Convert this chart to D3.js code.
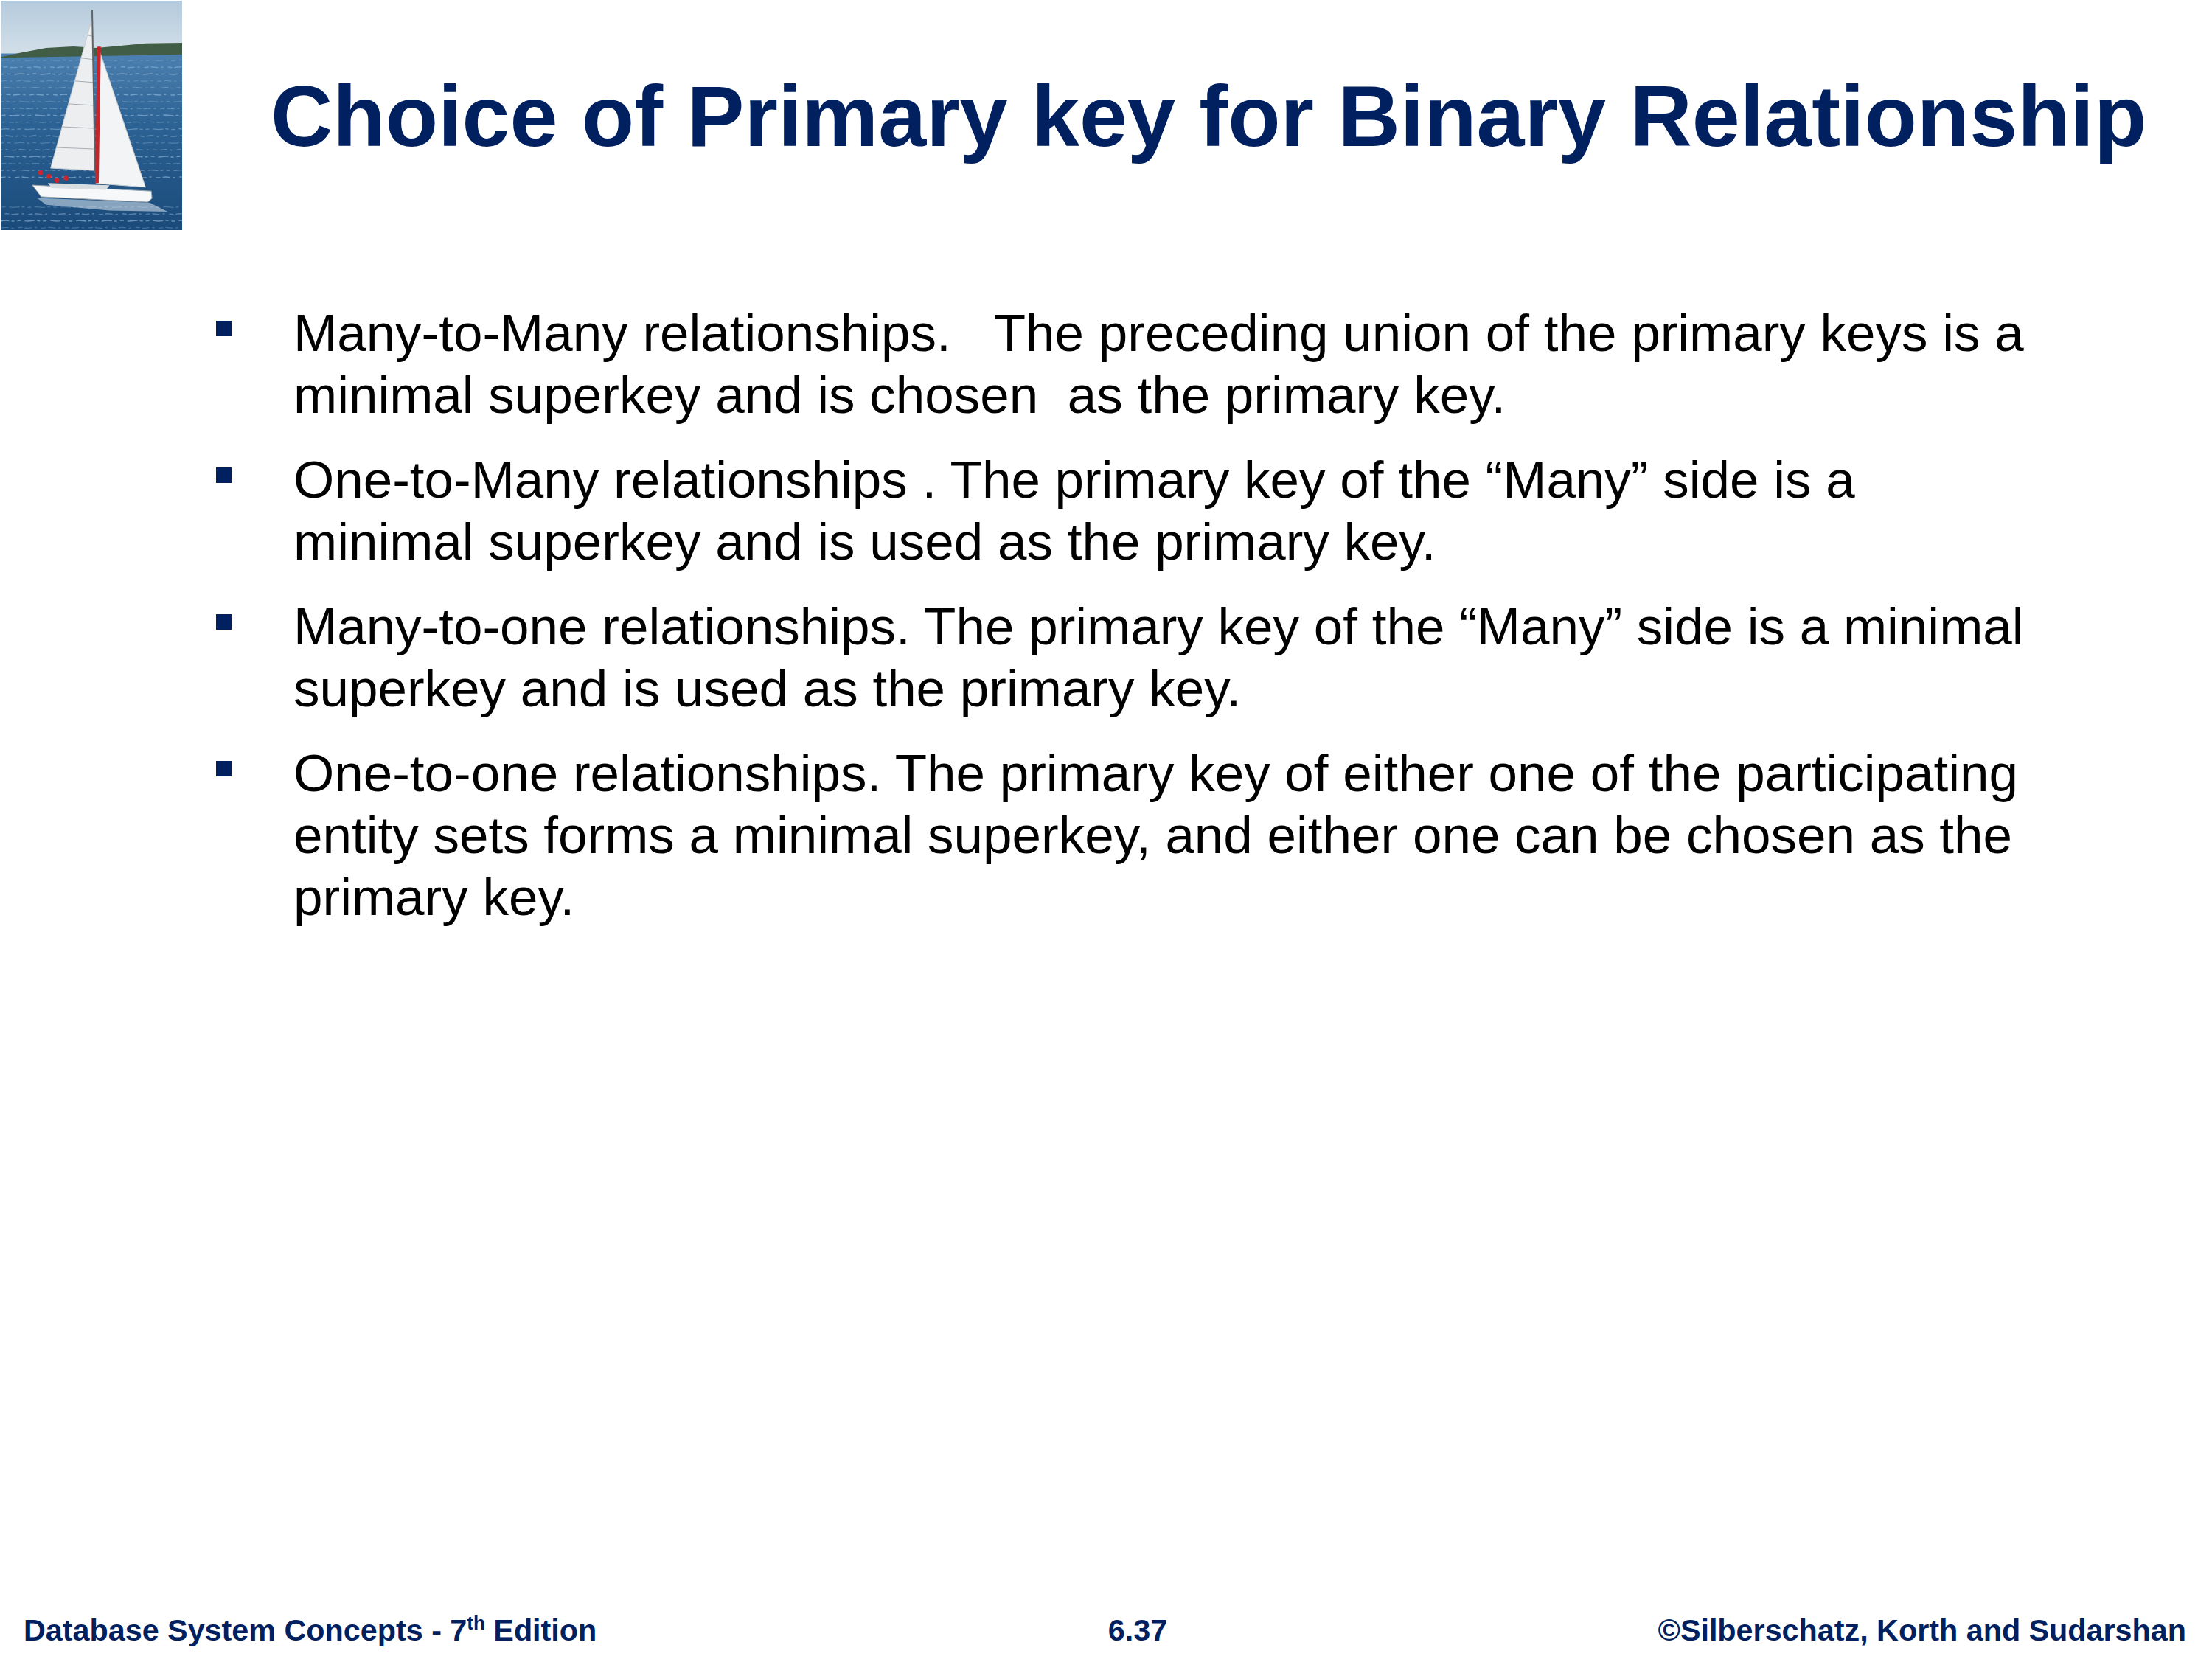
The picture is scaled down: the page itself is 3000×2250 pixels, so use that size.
<!DOCTYPE html>
<html>
<head>
<meta charset="utf-8">
<script src="https://cdn.jsdelivr.net/npm/d3@7"></script>
<style>
  html, body { margin: 0; padding: 0; background: #fff; }
  svg { display: block; }
  text { white-space: pre; }
</style>
</head>
<body>
<div id="slide"></div>
<script>
const WIDTH = 3000;
const HEIGHT = 2250;
const NAVY = "#002060";

// slide text
const titleText = "Choice of Primary key for Binary Relationship";

const bullets = [
  ["Many-to-Many relationships.   The preceding union of the primary keys is a",
   "minimal superkey and is chosen  as the primary key."],
  ["One-to-Many relationships . The primary key of the \u201cMany\u201d side is a",
   "minimal superkey and is used as the primary key."],
  ["Many-to-one relationships. The primary key of the \u201cMany\u201d side is a minimal",
   "superkey and is used as the primary key."],
  ["One-to-one relationships. The primary key of either one of the participating",
   "entity sets forms a minimal superkey, and either one can be chosen as the",
   "primary key."]
];

const footerLeft = ["Database System Concepts - 7", "th", " Edition"];
const footerCenter = "6.37";
const footerRight = "\u00a9Silberschatz, Korth and Sudarshan";

// logo picture (sailboat), in its own 0..100 units
const hills = [[0, 24.5], [12, 22.5], [25, 20.6], [40, 19.9], [53, 20.6], [66, 19.6], [80, 18.6], [100, 18.3], [100, 23.5], [0, 24.8]];
const mainsail = [[50.6, 7], [51.8, 74], [27.5, 73]];
const jib = [[53.8, 20.2], [79.8, 81.3], [52.6, 79.7]];
const hull = [[17.4, 80.4], [83, 83], [83.4, 86.2], [81, 87.8], [22.3, 85.5]];
const crew = [[22, 75], [26.5, 76.6], [31, 78.4], [36, 77.4]];
const waveRows = [26, 29, 32, 35, 38, 41, 44, 47, 50, 53, 56, 59, 62, 65, 68, 71, 74, 77, 90, 93, 96, 99];

const svg = d3.select("#slide").append("svg")
  .attr("width", WIDTH)
  .attr("height", HEIGHT)
  .attr("viewBox", `0 0 ${WIDTH} ${HEIGHT}`);

svg.append("rect").attr("width", WIDTH).attr("height", HEIGHT).attr("fill", "#fff");

// ---- logo ----
const lx = d3.scaleLinear().domain([0, 100]).range([1, 247]);
const ly = d3.scaleLinear().domain([0, 100]).range([1, 312]);
const poly = d3.line().x(d => lx(d[0])).y(d => ly(d[1]));

const defs = svg.append("defs");
const sky = defs.append("linearGradient").attr("id", "sky").attr("x1", 0).attr("y1", 0).attr("x2", 0).attr("y2", 1);
sky.append("stop").attr("offset", "0%").attr("stop-color", "#b4cadc");
sky.append("stop").attr("offset", "100%").attr("stop-color", "#d5e1ea");
const sea = defs.append("linearGradient").attr("id", "sea").attr("x1", 0).attr("y1", 0).attr("x2", 0).attr("y2", 1);
sea.append("stop").attr("offset", "0%").attr("stop-color", "#4c80b0");
sea.append("stop").attr("offset", "40%").attr("stop-color", "#2c6294");
sea.append("stop").attr("offset", "100%").attr("stop-color", "#1a4a7a");
defs.append("clipPath").attr("id", "logoClip")
  .append("rect").attr("x", lx(0)).attr("y", ly(0))
  .attr("width", lx(100) - lx(0)).attr("height", ly(100) - ly(0));

const logo = svg.append("g").attr("id", "logo").attr("clip-path", "url(#logoClip)");
logo.append("rect").attr("x", lx(0)).attr("y", ly(0)).attr("width", lx(100) - lx(0)).attr("height", ly(25) - ly(0)).attr("fill", "url(#sky)");
logo.append("rect").attr("x", lx(0)).attr("y", ly(23)).attr("width", lx(100) - lx(0)).attr("height", ly(100) - ly(23)).attr("fill", "url(#sea)");
logo.append("path").attr("d", poly(hills) + "Z").attr("fill", "#415d45");

const wave = d3.line().x(d => lx(d[0])).y(d => ly(d[1])).curve(d3.curveBasis);
waveRows.forEach((r, i) => {
  const pts = d3.range(-5, 106, 4).map((x, j) => [x, r + (j % 2 ? 0.45 : -0.45)]);
  logo.append("path").attr("d", wave(pts))
    .attr("fill", "none").attr("stroke", "#a9cbe6")
    .attr("stroke-width", 1.4).attr("stroke-opacity", 0.3 + (i % 3) * 0.12)
    .attr("stroke-dasharray", i % 2 ? "10 4 3 6 6 3" : "5 5 14 3 4 4")
    .attr("stroke-dashoffset", i * 7);
});

// wake
logo.append("path")
  .attr("d", poly([[20, 86], [82, 88], [92, 92], [60, 91.5], [25, 89]]) + "Z")
  .attr("fill", "#dfe9f2").attr("opacity", 0.55);

logo.append("path").attr("d", poly(mainsail) + "Z").attr("fill", "#eceef0").attr("stroke", "#c9ccd0").attr("stroke-width", 1);
[15, 25, 35, 45, 55, 64].forEach(t => {
  const y = ly(t);
  const f = (t - 7) / 67;
  logo.append("line")
    .attr("x1", lx(50.6 + (27.5 - 50.6) * f)).attr("x2", lx(51.5))
    .attr("y1", y).attr("y2", y + 2)
    .attr("stroke", "#a9adb2").attr("stroke-width", 1);
});
logo.append("path").attr("d", poly(jib) + "Z").attr("fill", "#f3f4f5").attr("stroke", "#c9ccd0").attr("stroke-width", 1);
logo.append("line")
  .attr("x1", lx(50.4)).attr("y1", ly(4)).attr("x2", lx(52)).attr("y2", ly(75))
  .attr("stroke", "#5f6468").attr("stroke-width", 2);
logo.append("line")
  .attr("x1", lx(54.2)).attr("y1", ly(20)).attr("x2", lx(53)).attr("y2", ly(79.5))
  .attr("stroke", "#c4262c").attr("stroke-width", 5);
logo.append("path").attr("d", poly(hull) + "Z").attr("fill", "#f7f8f9").attr("stroke", "#9aa3ab").attr("stroke-width", 1);
logo.append("path").attr("d", poly([[26, 79.5], [60, 80.5], [58, 82.5], [28, 81.7]]) + "Z").attr("fill", "#d8dde2");
logo.selectAll("circle.crew").data(crew).join("circle")
  .attr("class", "crew")
  .attr("cx", d => lx(d[0])).attr("cy", d => ly(d[1]))
  .attr("r", 3.2).attr("fill", "#d2232a");

// ---- title ----
svg.append("text")
  .attr("x", 367).attr("y", 198)
  .attr("font-family", "'Liberation Sans', Arial, sans-serif")
  .attr("font-weight", "bold")
  .attr("font-size", 116.8)
  .attr("fill", NAVY)
  .text(titleText);

// ---- bullets ----
const TEXT_X = 398;
const BULLET_X = 293;
const FIRST_BASE = 476;
const LINE_H = 84;
const PARA_GAP = 31;

let lineIndex = 0;
const body = svg.append("g").attr("id", "bullets")
  .attr("font-family", "'Liberation Sans', Arial, sans-serif")
  .attr("font-size", 71);

bullets.forEach((lines, p) => {
  const base0 = FIRST_BASE + lineIndex * LINE_H + p * PARA_GAP;
  body.append("rect")
    .attr("x", BULLET_X).attr("y", base0 - 41)
    .attr("width", 21).attr("height", 21)
    .attr("fill", NAVY);
  lines.forEach((ln, k) => {
    body.append("text")
      .attr("x", TEXT_X).attr("y", base0 + k * LINE_H)
      .attr("fill", "#000")
      .text(ln);
  });
  lineIndex += lines.length;
});

// ---- footer ----
const foot = svg.append("g").attr("id", "footer")
  .attr("font-family", "'Liberation Sans', Arial, sans-serif")
  .attr("font-weight", "bold")
  .attr("font-size", 41.3)
  .attr("fill", NAVY);

const fl = foot.append("text").attr("x", 32).attr("y", 2225);
fl.append("tspan").text(footerLeft[0]);
fl.append("tspan").attr("font-size", 26).attr("dy", -15).text(footerLeft[1]);
fl.append("tspan").attr("dy", 15).text(footerLeft[2]);

foot.append("text").attr("x", 1543).attr("y", 2225).attr("text-anchor", "middle").text(footerCenter);
foot.append("text").attr("x", 2965).attr("y", 2225).attr("text-anchor", "end").text(footerRight);
</script>
</body>
</html>
